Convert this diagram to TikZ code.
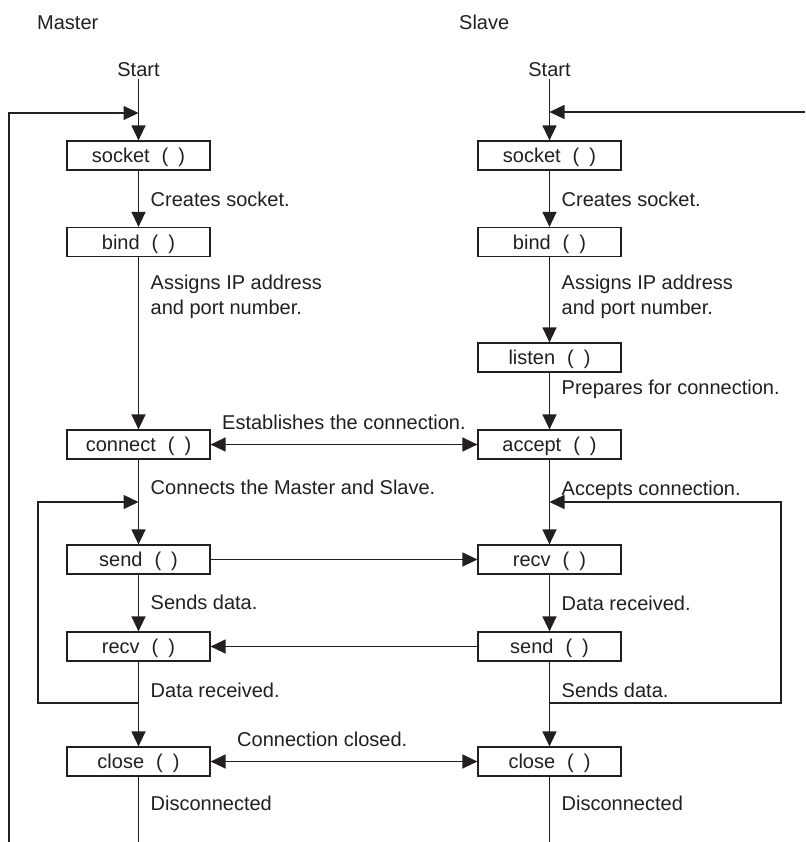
\documentclass[tikz,border=0pt]{standalone}
\usepackage{fontspec}
\setmainfont{Liberation Sans}
\usetikzlibrary{arrows.meta}
\definecolor{ink}{HTML}{231F20}
\newcommand{\fs}{\fontsize{20}{24}\selectfont}
\newcommand{\fn}[1]{#1\hspace{0.6em}(\hspace{0.5em})}
\begin{document}
\begin{tikzpicture}[x=1pt,y=-1pt,
  every node/.style={text=ink},
  box/.style={draw=ink, line width=1.2pt, minimum width=143pt, minimum height=29pt, inner sep=0pt, font=\fs, text height=14.3pt, text depth=0pt},
  lbl/.style={anchor=west, inner sep=0pt, font=\fs, text height=14.3pt, text depth=0pt},
  ttl/.style={inner sep=0pt, font=\fs, text height=14.3pt, text depth=0pt},
  ln/.style={draw=ink, line width=1.3pt},
  arr/.style={ln, -{Triangle[length=15pt,width=14pt]}},
  darr/.style={ln, {Triangle[length=15pt,width=14pt]}-{Triangle[length=15pt,width=14pt]}}
]
\fill[white] (0,0) rectangle (805,842);
\useasboundingbox (0,0) rectangle (805,842);

% titles
\node[ttl, anchor=west] (tm) at (37,22) {Master};
\node[ttl, anchor=west] (ts) at (459,22) {Slave};
\node[ttl] (stm) at (138.5,69) {Start};
\node[ttl] (sts) at (549.5,69) {Start};

% master column
\node[box] (msock) at (138.5,155.5) {\fn{socket}};
\node[box] (mbind) at (138.5,242) {\fn{bind}};
\node[box] (mconn) at (138.5,444.5) {\fn{connect}};
\node[box] (msend) at (138.5,559.5) {\fn{send}};
\node[box] (mrecv) at (138.5,646.5) {\fn{recv}};
\node[box] (mclose) at (138.5,761.5) {\fn{close}};

% slave column
\node[box] (ssock) at (549.5,155.5) {\fn{socket}};
\node[box] (sbind) at (549.5,242) {\fn{bind}};
\node[box] (slist) at (549.5,357.5) {\fn{listen}};
\node[box] (sacc) at (549.5,444.5) {\fn{accept}};
\node[box] (srecv) at (549.5,559.5) {\fn{recv}};
\node[box] (ssend) at (549.5,646.5) {\fn{send}};
\node[box] (sclose) at (549.5,761.5) {\fn{close}};

% labels master
\node[lbl] (l1) at (150.5,199) {Creates socket.};
\node[lbl] (l2) at (150.5,282) {Assigns IP address};
\node[lbl] (l3) at (150.5,307) {and port number.};
\node[lbl] (l4) at (150.5,487) {Connects the Master and Slave.};
\node[lbl] (l5) at (150.5,602) {Sends data.};
\node[lbl] (l6) at (150.5,690) {Data received.};
\node[lbl] (l7) at (150.5,803) {Disconnected};
% labels slave
\node[lbl] (r1) at (561.5,199) {Creates socket.};
\node[lbl] (r2) at (561.5,282) {Assigns IP address};
\node[lbl] (r3) at (561.5,307) {and port number.};
\node[lbl] (r4) at (561.5,387) {Prepares for connection.};
\node[lbl] (r5) at (561.5,488) {Accepts connection.};
\node[lbl] (r6) at (561.5,603) {Data received.};
\node[lbl] (r7) at (561.5,690) {Sends data.};
\node[lbl] (r8) at (561.5,803) {Disconnected};
% middle labels
\node[lbl] (c1) at (222,422) {Establishes the connection.};
\node[lbl] (c2) at (237,739) {Connection closed.};

% coordinates
\coordinate (mtop) at (138.5,113);
\coordinate (ltop) at (9,113);
\coordinate (lbot) at (9,842);
\coordinate (stop) at (549.5,112);
\coordinate (rtop) at (805,112);
\coordinate (mloopin) at (138.5,502);
\coordinate (mloopout) at (138.5,703);
\coordinate (sloopin) at (549.5,502);
\coordinate (sloopout) at (549.5,703);
\coordinate (mend) at (138.5,842);
\coordinate (send) at (549.5,842);

% master flow
\draw[arr] (stm.south) ++(0,3) -- (msock.north);
\draw[arr] (lbot) -- (ltop) -- (mtop);
\draw[arr] (msock) -- (mbind);
\draw[arr] (mbind) -- (mconn);
\draw[arr] (mconn) -- (msend);
\draw[arr] (mloopout) -| (38,502) -- (mloopin);
\draw[arr] (msend) -- (mrecv);
\draw[arr] (mrecv) -- (mclose);
\draw[ln] (mclose) -- (mend);

% slave flow
\draw[arr] (sts.south) ++(0,3) -- (ssock.north);
\draw[arr] (rtop) -- (stop);
\draw[arr] (ssock) -- (sbind);
\draw[arr] (sbind) -- (slist);
\draw[arr] (slist) -- (sacc);
\draw[arr] (sacc) -- (srecv);
\draw[arr] (sloopout) -| (781,502) -- (sloopin);
\draw[arr] (srecv) -- (ssend);
\draw[arr] (ssend) -- (sclose);
\draw[ln] (sclose) -- (send);

% cross connections
\draw[darr] (mconn) -- (sacc);
\draw[arr] (msend) -- (srecv);
\draw[arr] (ssend) -- (mrecv);
\draw[darr] (mclose) -- (sclose);
\end{tikzpicture}
\end{document}
